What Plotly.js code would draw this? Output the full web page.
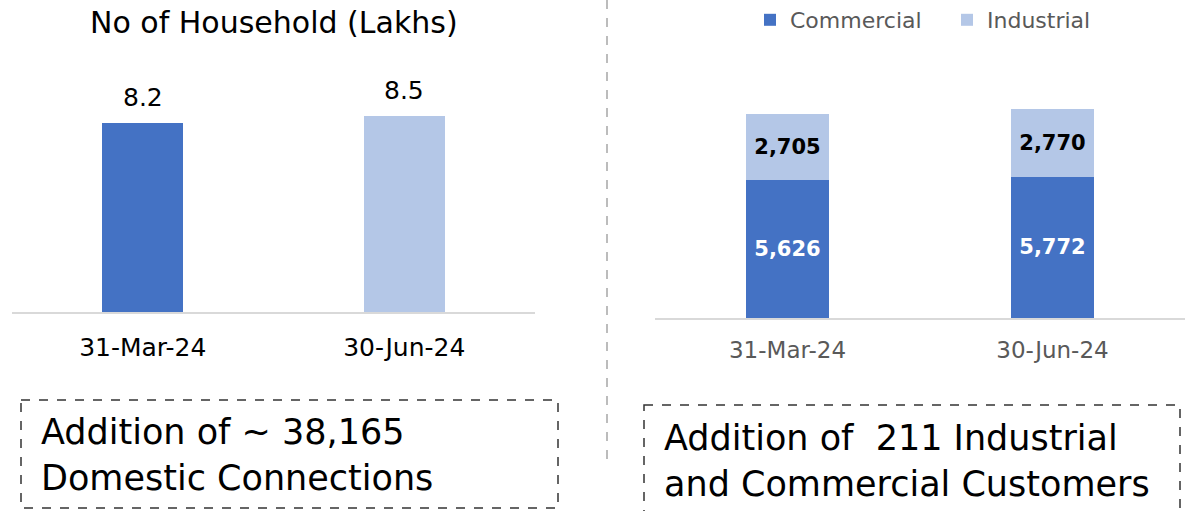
<!DOCTYPE html>
<html>
<head>
<meta charset="utf-8">
<script src="https://cdn.plot.ly/plotly-3.0.1.min.js"></script>
<style>html,body{margin:0;padding:0;background:#fff;}#chart{width:1189px;height:511px;}</style>
</head>
<body>
<div id="chart"></div>
<script>
// ---- data ----
const dates = ["31-Mar-24", "30-Jun-24"];
const households = [8.2, 8.5];
const commercial = [5626, 5772];
const industrial = [2705, 2770];
const leftTitle = "No of Household (Lakhs)";
const leftNote = "Addition of ~ 38,165<br>Domestic Connections";
const rightNote = "Addition of  211 Industrial<br>and Commercial Customers";

const W = 1189, H = 511;
const px = x => x / W;
const py = y => 1 - y / H;
const FONT = "DejaVu Sans, sans-serif";
const DARK = "#4472C4", LIGHT = "#B4C7E7";
const fmt = v => v.toLocaleString("en-US");

const traces = [
  {
    type: "bar", x: dates, y: households, xaxis: "x", yaxis: "y",
    marker: {color: [DARK, LIGHT]}, showlegend: false,
    hoverinfo: "skip"
  },
  {
    type: "bar", name: "Commercial", x: dates, y: commercial, xaxis: "x2", yaxis: "y2",
    marker: {color: DARK},
    text: commercial.map(fmt), textposition: "inside", insidetextanchor: "middle",
    textfont: {family: FONT, size: 21, color: "#fff", weight: "bold"},
    hoverinfo: "skip"
  },
  {
    type: "bar", name: "Industrial", x: dates, y: industrial, xaxis: "x2", yaxis: "y2",
    marker: {color: LIGHT},
    text: industrial.map(fmt), textposition: "inside", insidetextanchor: "middle",
    textfont: {family: FONT, size: 21, color: "#000", weight: "bold"},
    hoverinfo: "skip"
  }
];

const valueLabels = dates.map((d, i) => ({
  xref: "x", yref: "y", x: d, y: households[i], text: households[i].toFixed(1),
  showarrow: false, xanchor: "center", yanchor: "bottom", yshift: 9,
  font: {family: FONT, size: 25, color: "#000"}
}));

const layout = {
  width: W, height: H,
  margin: {l: 0, r: 0, t: 0, b: 0, autoexpand: false},
  paper_bgcolor: "#fff", plot_bgcolor: "rgba(0,0,0,0)",
  font: {family: FONT},
  barmode: "stack",
  bargap: 0.69,
  showlegend: true,
  legend: {
    orientation: "h", x: px(750), xanchor: "left", y: py(20), yanchor: "middle",
    font: {family: FONT, size: 22, color: "#595959"}, traceorder: "normal",
    itemwidth: 30, entrywidth: 152, bgcolor: "rgba(0,0,0,0)"
  },
  xaxis: {
    domain: [px(12), px(535)], anchor: "y",
    showline: true, linecolor: "#d9d9d9", linewidth: 2,
    ticks: "", tickfont: {family: FONT, size: 25, color: "#000"}, ticklabelstandoff: 12,
    showgrid: false, fixedrange: true
  },
  yaxis: {
    domain: [py(312), py(81.5)], anchor: "x", range: [0, 10],
    visible: false, showgrid: false, zeroline: false, fixedrange: true
  },
  xaxis2: {
    domain: [px(655), px(1185)], anchor: "y2",
    showline: true, linecolor: "#d9d9d9", linewidth: 2,
    ticks: "", tickfont: {family: FONT, size: 23, color: "#595959"}, ticklabelstandoff: 10,
    showgrid: false, fixedrange: true
  },
  yaxis2: {
    domain: [py(318), py(73)], anchor: "x2", range: [0, 10000],
    visible: false, showgrid: false, zeroline: false, fixedrange: true
  },
  shapes: [
    {type: "line", xref: "paper", yref: "paper", x0: px(607), x1: px(607), y0: py(0), y1: py(465),
     line: {color: "#a6a6a6", width: 1.5, dash: "dash"}},
    {type: "rect", xref: "paper", yref: "paper", x0: px(21), x1: px(558), y0: py(400), y1: py(508),
     line: {color: "#333", width: 1.5, dash: "dash"}},
    {type: "rect", xref: "paper", yref: "paper", x0: px(644), x1: px(1180), y0: py(405), y1: py(520),
     line: {color: "#333", width: 1.5, dash: "dash"}}
  ],
  annotations: [
    {xref: "paper", yref: "paper", x: px(274), y: py(22), text: leftTitle, showarrow: false,
     xanchor: "center", yanchor: "middle", font: {family: FONT, size: 30, color: "#000"}},
    {xref: "paper", yref: "paper", x: px(39), y: py(455), text: leftNote, showarrow: false,
     xanchor: "left", yanchor: "middle", align: "left", font: {family: FONT, size: 35, color: "#000"}},
    {xref: "paper", yref: "paper", x: px(662), y: py(461), text: rightNote, showarrow: false,
     xanchor: "left", yanchor: "middle", align: "left", font: {family: FONT, size: 35, color: "#000"}}
  ].concat(valueLabels)
};

Plotly.newPlot("chart", traces, layout, {displayModeBar: false, staticPlot: true});
</script>
</body>
</html>
